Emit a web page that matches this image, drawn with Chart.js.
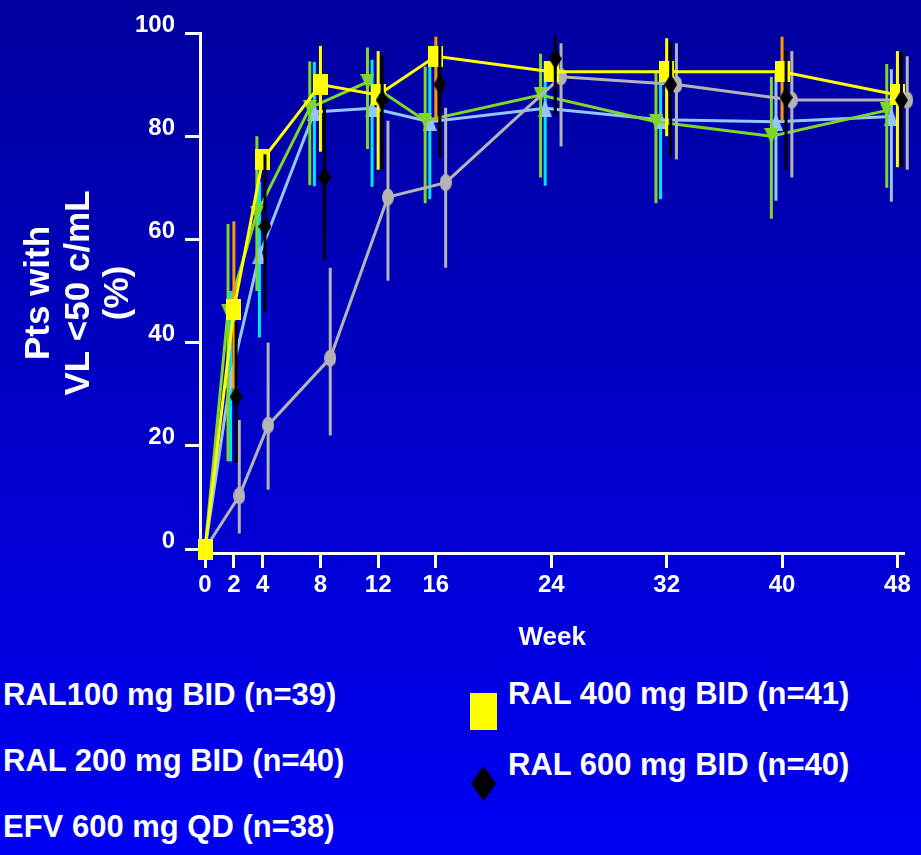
<!DOCTYPE html>
<html>
<head>
<meta charset="utf-8">
<script src="https://cdn.jsdelivr.net/npm/chart.js@4.4.1/dist/chart.umd.min.js"></script>
<style>
  html, body { margin: 0; padding: 0; }
  body {
    width: 921px; height: 855px; overflow: hidden; position: relative;
    background: linear-gradient(#00009e, #0000f4);
    font-family: "Liberation Sans", Arial, sans-serif; font-weight: bold; color: #fff;
  }
  #wrap { position: absolute; left: 0; top: 0; width: 921px; height: 660px; }
  .lg { position: absolute; font-size: 31px; line-height: 31px; white-space: nowrap; }
  .sq { position: absolute; left: 470px; top: 693px; width: 27px; height: 37px; background: #ffff00; }
  .dia { position: absolute; left: 471px; top: 766px; width: 25px; height: 35px; background: #000;
         clip-path: polygon(50% 0, 100% 50%, 50% 100%, 0 50%); }
</style>
</head>
<body>
<div id="wrap"><canvas id="vlChart"></canvas></div>

<div class="lg" style="left:3px;top:679px">RAL100 mg BID (n=39)</div>
<div class="lg" style="left:3px;top:745px">RAL 200 mg BID (n=40)</div>
<div class="lg" style="left:3px;top:811px">EFV 600 mg QD (n=38)</div>
<div class="sq"></div>
<div class="lg" style="left:508px;top:678px">RAL 400 mg BID (n=41)</div>
<div class="dia"></div>
<div class="lg" style="left:508px;top:749px">RAL 600 mg BID (n=40)</div>

<script>
/* % of patients with VL < 50 copies/mL by week, 5 arms with 95% CI bars */
(function () {
  var WEEKS = [0, 2, 4, 8, 12, 16, 24, 32, 40, 48];
  var Y_TICKS = [0, 20, 40, 60, 80, 100];

  var RAL600 = [0, 29.5, 62.5, 72, 87, 90, 95, 90, 87.5, 87];
  var RAL600_LO = [null, 16.7, 46, 56, 73.5, 76, 84, 76, 73.5, 74];
  var RAL600_HI = [null, 44, 76.5, 86, 95.5, 97.5, 99.5, 98.3, 96.7, 96.3];

  var RAL400 = [0, 46.5, 75.5, 90, 88, 95.5, 92.5, 92.5, 92.5, 88];
  var RAL400_LO = [null, 30, null, 77, 73.5, 83, null, 80, 83, 74];
  var RAL400_HI = [null, 63.5, null, 97.5, 96.5, 99.3, null, 99, 99.3, 96.5];

  var EFV = [0, 10.3, 24, 37, 68.2, 71, 91.5, 90, 87, 87];
  var EFV_LO = [null, 3, 11.5, 22, 52, 54.5, 78, 75.5, 72, 73.5];
  var EFV_HI = [null, 25, 40, 54.5, 83, 85.5, 98, 98, 96.5, 95.5];

  var RAL200 = [0, 46, 65, 85.5, 90.5, 83, 88, 82.8, 80, 85];
  var RAL200_LO = [null, 17, 50, 70.5, 77.5, 67, 72, 67, 64, 70];
  var RAL200_HI = [null, 63, 80, 94.5, 97.2, 93.5, 96, 92.8, 91.5, 94];

  var RAL100 = [0, 33, 57, 84.7, 85.4, 82.8, 85.4, 83.2, 82.8, 83.8];
  var RAL100_LO = [null, 17, 41, 70.3, 70.2, 67.8, 70.4, 67.8, 67.5, 67.3];
  var RAL100_HI = [null, 50, 71.2, 94.4, 94.8, 94.4, 94.4, 93, 92, 93];

  var YELLOW = '#ffff00', ORANGE = '#ff9900', CYAN = '#00e5ff', LBLUE = '#93c6ff',
      GREEN = '#7fd62a', GREY = '#b4b4b4', BLACK = '#000000';

  Chart.defaults.font.family = '"Liberation Sans", Arial, sans-serif';

  // stretched marker shapes drawn once, used as pointStyle images
  function marker(w, h, color, shape) {
    var c = document.createElement('canvas');
    c.width = w; c.height = h;
    var g = c.getContext('2d');
    g.fillStyle = color;
    g.beginPath();
    if (shape === 'rect') g.rect(0, 0, w, h);
    else if (shape === 'diamond') { g.moveTo(w / 2, 0); g.lineTo(w, h / 2); g.lineTo(w / 2, h); g.lineTo(0, h / 2); }
    else if (shape === 'ellipse') g.ellipse(w / 2, h / 2, w / 2, h / 2, 0, 0, Math.PI * 2);
    else if (shape === 'up') { g.moveTo(w / 2, 0); g.lineTo(w, h); g.lineTo(0, h); }
    else if (shape === 'down') { g.moveTo(0, 0); g.lineTo(w, 0); g.lineTo(w / 2, h); }
    g.closePath();
    g.fill();
    return c;
  }

  // arms are nudged sideways so their CI bars don't sit on top of each other
  // (less room between the early visits, so the nudge is smaller there)
  function pts(vals, dx) {
    return vals.map(function (v, i) {
      var w = WEEKS[i];
      var shift = w === 0 ? 0 : (w <= 4 ? dx * 0.55 : dx);
      return { x: w + shift, y: v };
    });
  }
  function hideFirst(c) { return c.dataIndex === 0 ? 0 : 8; }

  var errorBars = {
    id: 'errorBars',
    beforeDatasetDraw: function (chart, args) {
      var ds = chart.data.datasets[args.index];
      if (!ds.lo) return;
      var ys = chart.scales.y, ctx = chart.ctx;
      ctx.save();
      ctx.lineWidth = 3;
      args.meta.data.forEach(function (pt, i) {
        if (ds.lo[i] == null) return;
        ctx.strokeStyle = ds.barColors[i];
        ctx.beginPath();
        ctx.moveTo(pt.x, ys.getPixelForValue(ds.hi[i]));
        ctx.lineTo(pt.x, ys.getPixelForValue(ds.lo[i]));
        ctx.stroke();
      });
      ctx.restore();
    }
  };

  function fill(n, c) { var a = []; for (var i = 0; i < n; i++) a.push(c); return a; }

  var datasets = [
    { label: 'RAL 600 mg BID (n=40)', data: pts(RAL600, 0.28), lo: RAL600_LO, hi: RAL600_HI,
      barColors: fill(10, BLACK), showLine: false,
      pointStyle: marker(13, 21, BLACK, 'diamond'), pointRadius: hideFirst },
    { label: 'RAL 400 mg BID (n=41)', data: pts(RAL400, 0), lo: RAL400_LO, hi: RAL400_HI,
      barColors: [YELLOW, ORANGE, YELLOW, YELLOW, YELLOW, ORANGE, YELLOW, YELLOW, ORANGE, YELLOW],
      borderColor: YELLOW, borderWidth: 3,
      pointStyle: marker(15, 21, YELLOW, 'rect'), pointRadius: 8 },
    { label: 'EFV 600 mg QD (n=38)', data: pts(EFV, 0.68), lo: EFV_LO, hi: EFV_HI,
      barColors: fill(10, GREY), borderColor: GREY, borderWidth: 3,
      pointStyle: marker(12, 17, GREY, 'ellipse'), pointRadius: hideFirst },
    { label: 'RAL 200 mg BID (n=40)', data: pts(RAL200, -0.74), lo: RAL200_LO, hi: RAL200_HI,
      barColors: fill(10, GREEN), borderColor: GREEN, borderWidth: 3,
      pointStyle: marker(14, 16, GREEN, 'down'), pointRadius: hideFirst },
    { label: 'RAL100 mg BID (n=39)', data: pts(RAL100, -0.42), lo: RAL100_LO, hi: RAL100_HI,
      barColors: [CYAN, CYAN, CYAN, CYAN, CYAN, CYAN, CYAN, CYAN, LBLUE, LBLUE],
      borderColor: LBLUE, borderWidth: 3,
      pointStyle: marker(14, 18, LBLUE, 'up'), pointRadius: hideFirst }
  ];
  datasets.forEach(function (d) { d.clip = 14; d.tension = 0; d.fill = false; });

  var axisColor = '#ffffff';
  new Chart(document.getElementById('vlChart'), {
    type: 'line',
    data: { datasets: datasets },
    plugins: [errorBars],
    options: {
      responsive: true, maintainAspectRatio: false, animation: false,
      layout: { padding: { top: 33, right: 16.5, left: 0, bottom: 0 } },
      plugins: { legend: { display: false }, tooltip: { enabled: false } },
      scales: {
        x: {
          type: 'linear', min: -0.35, max: 48.49,
          afterFit: function (s) { s.height = 107; },
          afterBuildTicks: function (s) { s.ticks = WEEKS.map(function (w) { return { value: w }; }); },
          border: { color: axisColor, width: 3 },
          grid: { drawOnChartArea: false, color: axisColor, tickLength: 15, tickWidth: 3 },
          ticks: { color: axisColor, font: { size: 24, weight: 'bold' }, padding: 3, maxRotation: 0, autoSkip: false },
          title: { display: true, text: 'Week', color: axisColor, font: { size: 26, weight: 'bold' }, padding: { bottom: 7 } }
        },
        y: {
          min: -0.775, max: 100,
          afterFit: function (s) { s.width = 200; },
          afterBuildTicks: function (s) { s.ticks = Y_TICKS.map(function (v) { return { value: v }; }); },
          border: { color: axisColor, width: 3 },
          grid: { drawOnChartArea: false, color: axisColor, tickLength: 15, tickWidth: 3 },
          ticks: { color: axisColor, font: { size: 24, weight: 'bold' }, padding: 10, labelOffset: -8 },
          title: { display: true, text: ['Pts with', 'VL <50 c/mL', '(%)'], color: axisColor,
                   font: { size: 35, weight: 'bold', lineHeight: 1.14 }, padding: { top: 19 } }
        }
      }
    }
  });
})();
</script>
</body>
</html>
